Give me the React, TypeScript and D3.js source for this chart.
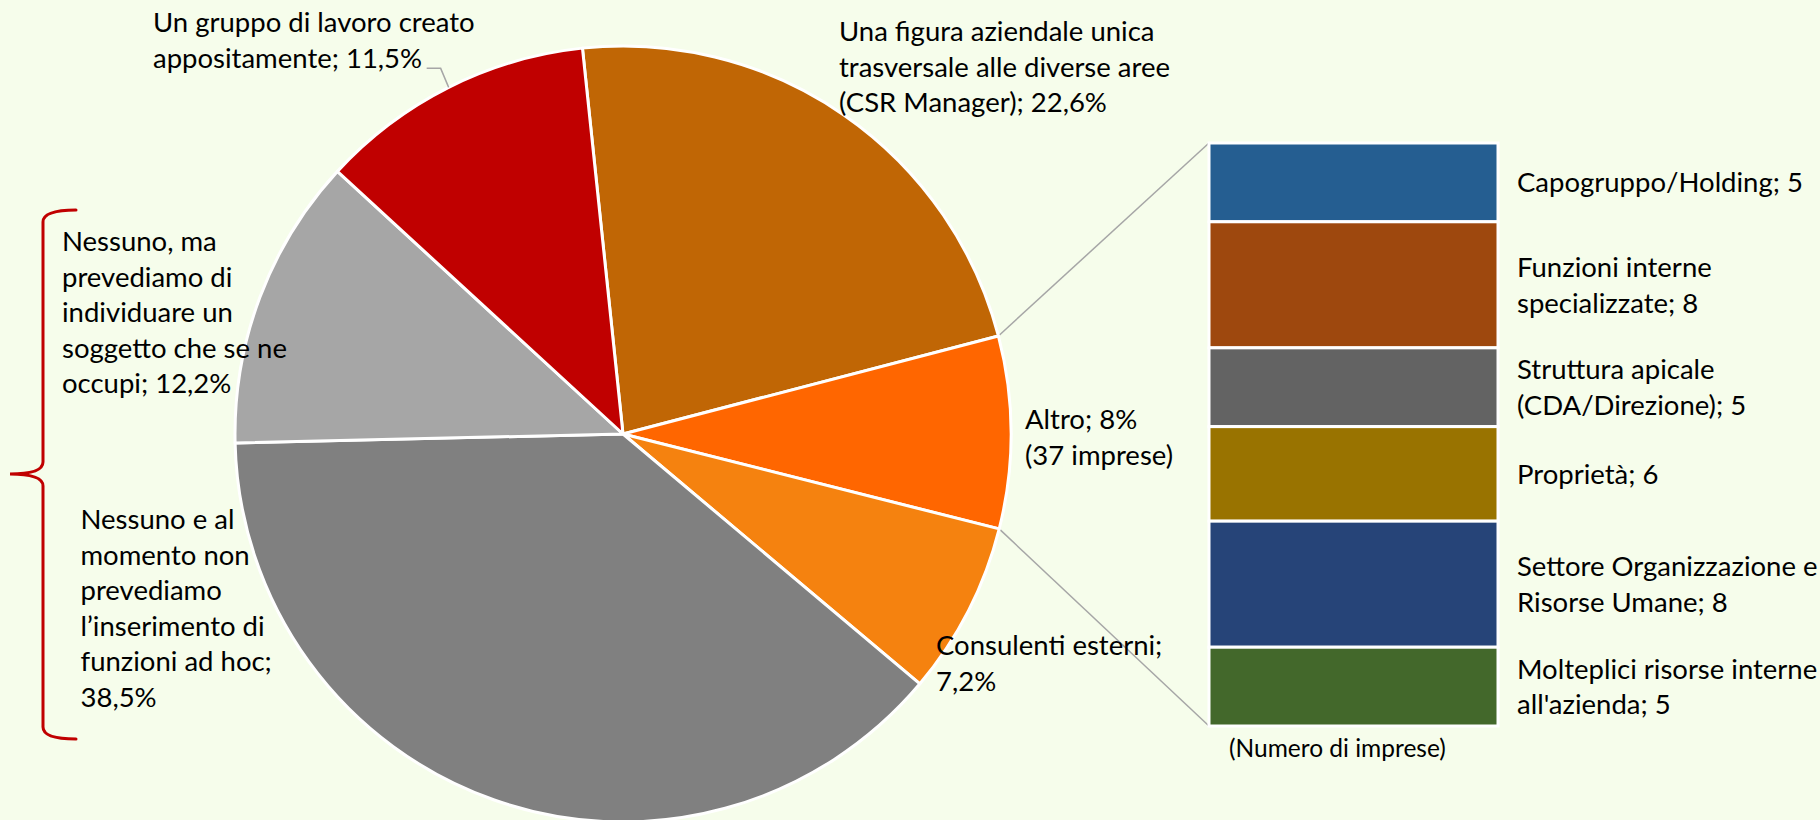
import React from "react";
import * as d3 from "d3";

const W = 1820;
const H = 820;
const BG = "#F6FDEB";
const FONT = "Lato, Carlito, Calibri, sans-serif";
const FS = 27.5;
const LH = 35.5;

// Pie (main) data
const pieCategories = [
  "Una figura aziendale unica trasversale alle diverse aree (CSR Manager)",
  "Altro",
  "Consulenti esterni",
  "Nessuno e al momento non prevediamo l’inserimento di funzioni ad hoc",
  "Nessuno, ma prevediamo di individuare un soggetto che se ne occupi",
  "Un gruppo di lavoro creato appositamente",
];
const pieValues = [22.6, 8, 7.2, 38.5, 12.2, 11.5];
const pieColors = ["#C06605", "#FF6600", "#F5820F", "#808080", "#A6A6A6", "#C00000"];
const pieLabelLines = [
  ["Una figura aziendale unica", "trasversale alle diverse aree", "(CSR Manager); {v}"],
  ["Altro; {v}", "({n} imprese)"],
  ["Consulenti esterni;", "{v}"],
  ["Nessuno e al", "momento non", "prevediamo", "l’inserimento di", "funzioni ad hoc;", "{v}"],
  ["Nessuno, ma", "prevediamo di", "individuare un", "soggetto che se ne", "occupi; {v}"],
  ["Un gruppo di lavoro creato", "appositamente; {v}"],
];

// Bar (secondary) data: breakdown of "Altro" (number of companies)
const barCategories = [
  "Capogruppo/Holding",
  "Funzioni interne specializzate",
  "Struttura apicale (CDA/Direzione)",
  "Proprietà",
  "Settore Organizzazione e Risorse Umane",
  "Molteplici risorse interne all'azienda",
];
const barValues = [5, 8, 5, 6, 8, 5];
const barColors = ["#255E91", "#9E480E", "#636363", "#997300", "#264478", "#43682B"];
const barLabelLines = [
  ["Capogruppo/Holding; {v}"],
  ["Funzioni interne", "specializzate; {v}"],
  ["Struttura apicale", "(CDA/Direzione); {v}"],
  ["Proprietà; {v}"],
  ["Settore Organizzazione e", "Risorse Umane; {v}"],
  ["Molteplici risorse interne", "all'azienda; {v}"],
];
const barNote = "(Numero di imprese)";

// Layout
const CX = 623;
const CY = 434;
const R = 388;
const START_DEG = -6.0;
const STACK_X0 = 1209;
const STACK_X1 = 1498;
const STACK_Y0 = 143;
const STACK_Y1 = 726;
const BAR_LABEL_X = 1517;
// label anchors (x, first baseline) for pie slices
const pieLabelPos = [
  [839, 41],
  [1025, 429],
  [936, 655],
  [80.5, 529],
  [62, 251],
  [153, 32],
];

const fmtPct = (v: number) => String(v).replace(".", ",") + "%";

export default function App() {
  const start = (START_DEG * Math.PI) / 180;
  const pie = d3
    .pie<number>()
    .sort(null)
    .value((d) => d)
    .startAngle(start)
    .endAngle(start + 2 * Math.PI);
  const arcs = pie(pieValues);
  const arc = d3.arc<d3.PieArcDatum<number>>().innerRadius(0).outerRadius(R);

  const total = d3.sum(barValues);
  const y = d3.scaleLinear().domain([0, total]).range([STACK_Y0, STACK_Y1]);
  const cum = barValues.map((_, i) => d3.sum(barValues.slice(0, i)));

  const pt = (a: number, r: number) => [CX + r * Math.sin(a), CY - r * Math.cos(a)];
  const altro = arcs[1];
  const [ax1, ay1] = pt(altro.startAngle, R);
  const [ax2, ay2] = pt(altro.endAngle, R);

  // leader line for "Un gruppo"
  const g = arcs[5];
  const gm = (g.startAngle + g.endAngle) / 2;
  const [lx, ly] = pt(gm, R);

  const brace = d3.path();
  brace.moveTo(76, 210);
  brace.quadraticCurveTo(43, 210, 43, 222);
  brace.lineTo(43, 462);
  brace.quadraticCurveTo(43, 474, 10, 474);
  brace.quadraticCurveTo(43, 474, 43, 486);
  brace.lineTo(43, 727);
  brace.quadraticCurveTo(43, 739, 76, 739);

  const fill = (s: string, v: number) => s.replace("{v}", fmtPct(v)).replace("{n}", String(total));

  return (
    <svg
      width={W}
      height={H}
      style={{ position: "absolute", left: 0, top: 0, display: "block" }}
      fontFamily={FONT}
      fontSize={FS}
    >
      <rect x={0} y={0} width={W} height={H} fill={BG} />
      {/* connectors */}
      <line x1={ax1} y1={ay1} x2={STACK_X0} y2={y(0)} stroke="#A6A6A6" strokeWidth={1.5} />
      <line x1={ax2} y1={ay2} x2={STACK_X0} y2={y(total)} stroke="#A6A6A6" strokeWidth={1.5} />
      {/* pie */}
      <g>
        {arcs.map((a, i) => (
          <path
            key={pieCategories[i]}
            d={arc(a) || ""}
            transform={`translate(${CX},${CY})`}
            fill={pieColors[i]}
            stroke="#FFFFFF"
            strokeWidth={3}
            strokeLinejoin="round"
          />
        ))}
      </g>
      {/* leader */}
      <polyline
        points={`${lx},${ly} ${lx - 8},${ly - 19} ${lx - 22},${ly - 19}`}
        fill="none"
        stroke="#A6A6A6"
        strokeWidth={1.5}
      />
      {/* pie labels */}
      {pieLabelLines.map((lines, i) => (
        <text key={"pl" + i} x={pieLabelPos[i][0]} y={pieLabelPos[i][1]} fill="#000">
          {lines.map((ln, j) => (
            <tspan key={j} x={pieLabelPos[i][0]} y={pieLabelPos[i][1] + j * LH}>
              {fill(ln, pieValues[i])}
            </tspan>
          ))}
        </text>
      ))}
      {/* stacked bar */}
      {barValues.map((v, i) => (
        <rect
          key={barCategories[i]}
          x={STACK_X0}
          y={y(cum[i])}
          width={STACK_X1 - STACK_X0}
          height={y(cum[i] + v) - y(cum[i])}
          fill={barColors[i]}
          stroke="#FFFFFF"
          strokeWidth={3}
        />
      ))}
      {barValues.map((v, i) => {
        const c = (y(cum[i]) + y(cum[i] + v)) / 2 + 10;
        const lines = barLabelLines[i];
        return (
          <text key={"bl" + i} fill="#000">
            {lines.map((ln, j) => (
              <tspan key={j} x={BAR_LABEL_X} y={c + (j - (lines.length - 1) / 2) * LH}>
                {ln.replace("{v}", String(v))}
              </tspan>
            ))}
          </text>
        );
      })}
      <text x={1229} y={757} fontSize={24.5} fill="#000">
        {barNote}
      </text>
      {/* brace */}
      <path d={brace.toString()} fill="none" stroke="#C00000" strokeWidth={3} strokeLinecap="round" />
    </svg>
  );
}
